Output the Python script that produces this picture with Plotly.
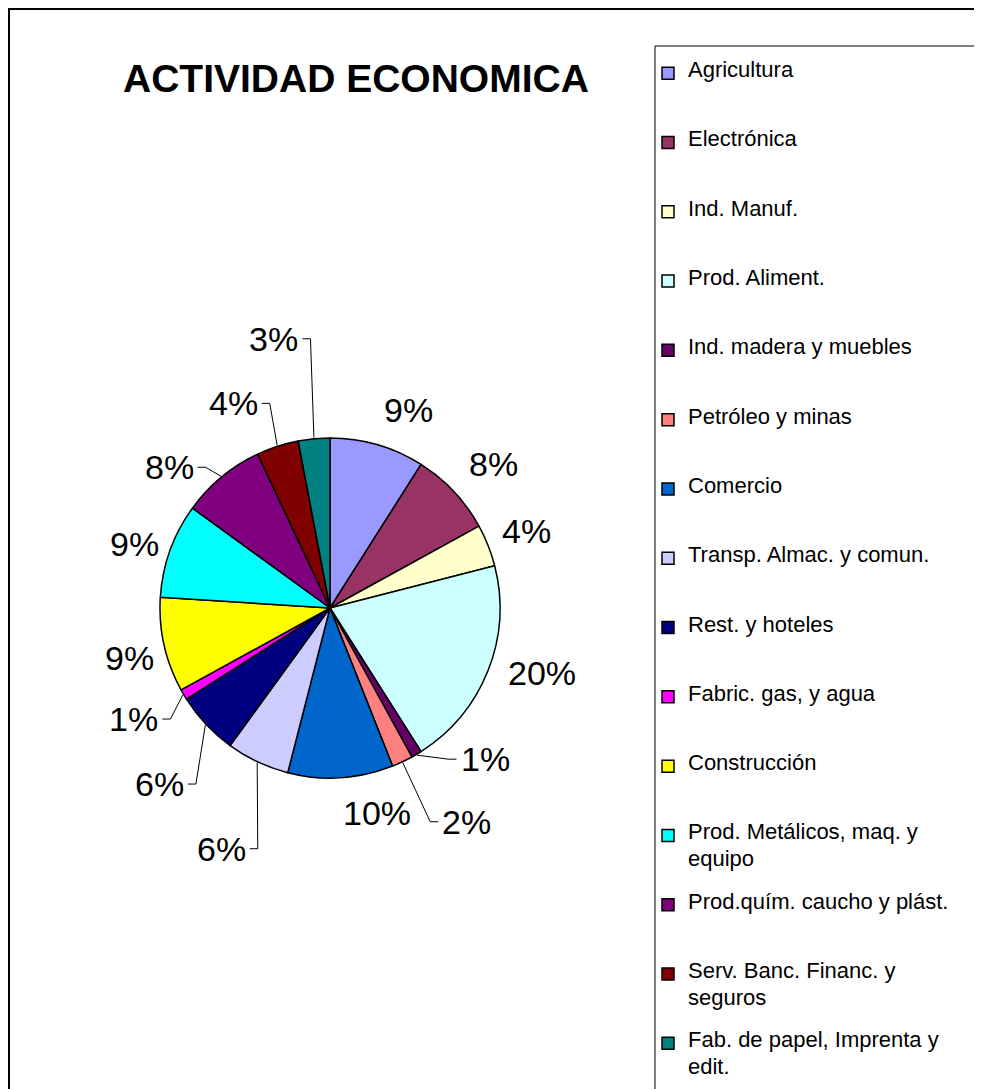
import math
import plotly.graph_objects as go

sectores = ["Agricultura", "Electrónica", "Ind. Manuf.", "Prod. Aliment.",
            "Ind. madera y muebles", "Petróleo y minas", "Comercio",
            "Transp. Almac. y comun.", "Rest. y hoteles", "Fabric. gas, y agua",
            "Construcción", "Prod. Metálicos, maq. y<br>equipo",
            "Prod.quím. caucho y plást.", "Serv. Banc. Financ. y<br>seguros",
            "Fab. de papel, Imprenta y<br>edit."]
porcentajes = [9, 8, 4, 20, 1, 2, 10, 6, 6, 1, 9, 9, 8, 4, 3]
colores = ["#9999FF", "#993366", "#FFFFCC", "#CCFFFF", "#660066", "#FF8080",
           "#0066CC", "#CCCCFF", "#000080", "#FF00FF", "#FFFF00", "#00FFFF",
           "#800080", "#800000", "#008080"]

# label placement: pixel offset from the slice edge, and whether a leader line is drawn
label_offset = [(31, -34), (39, -27), (38, -14), (53, 2), (68, 4), (64, 59), (36, 34),
                (-36, 86), (-46, 59), (-49, 24), (-34, 13), (-35, -6), (-52, -9),
                (-44, -42), (-40, -99)]
leader = [False, False, False, False, True, True, False,
          True, True, True, False, False, True, True, True]

W, H = 982, 1089
OFF = 8  # page body margin
cx, cy, R = 330, 608, 170
FONT = "Liberation Sans, Arial, sans-serif"


def px(x):
    return (x - OFF) / W


def py(y):
    return 1 - (y - OFF) / H


# legend entries padded with small blank lines so they space out like the original
legend_names = []
for k, s in enumerate(sectores):
    partes = s.split("<br>")
    lineas = []
    for p in partes:
        lineas.append("<span style='font-size:22px'>" + p + "</span>")
        lineas.append(" ")
    while len(lineas) < 5:
        lineas.append(" ")
    if k == len(sectores) - 1:
        lineas = lineas[:len(partes) * 2 - 1]
    legend_names.append("<br>".join(lineas[:5]))

fig = go.Figure(go.Pie(
    labels=legend_names,
    values=porcentajes,
    sort=False,
    direction="clockwise",
    rotation=0,
    marker=dict(colors=colores, line=dict(color="black", width=1.5)),
    textinfo="none",
    hoverinfo="percent",
    domain=dict(x=[px(cx - R), px(cx + R)], y=[py(cy + R), py(cy - R)]),
))

annotations = [dict(text="<b>ACTIVIDAD ECONOMICA</b>", x=px(356), y=py(79),
                    xref="paper", yref="paper", xanchor="center", yanchor="middle",
                    showarrow=False, font=dict(family=FONT, size=39, color="black"))]
shapes = [
    dict(type="rect", xref="paper", yref="paper", x0=px(9), x1=1.05, y0=-0.05, y1=py(9),
         line=dict(color="black", width=2)),
    dict(type="rect", xref="paper", yref="paper", x0=px(655), x1=1.05, y0=-0.05, y1=py(46),
         line=dict(color="black", width=1)),
]

total = sum(porcentajes)
acum = 0
for i, v in enumerate(porcentajes):
    mid = (acum + v / 2) / total * 2 * math.pi
    acum += v
    ex = cx + (R + 1) * math.sin(mid)
    ey = cy - (R + 1) * math.cos(mid)
    lx = ex + label_offset[i][0]
    ly = ey + label_offset[i][1]
    txt = "%d%%" % round(v / total * 100)
    annotations.append(dict(text=txt, x=px(lx), y=py(ly), xref="paper", yref="paper",
                            xanchor="center", yanchor="middle", showarrow=False,
                            font=dict(family=FONT, size=34, color="black")))
    if leader[i]:
        hw = (0.556 * (len(txt) - 1) + 0.889) * 34 / 2
        side = 1 if lx < ex else -1
        kx = lx + side * (hw + 12)
        ax = lx + side * (hw + 4)
        shapes.append(dict(type="line", xref="paper", yref="paper", x0=px(ex), y0=py(ey),
                           x1=px(kx), y1=py(ly), line=dict(color="black", width=1)))
        shapes.append(dict(type="line", xref="paper", yref="paper", x0=px(kx), y0=py(ly),
                           x1=px(ax), y1=py(ly), line=dict(color="black", width=1)))

fig.update_layout(
    width=W, height=H,
    margin=dict(l=0, r=0, t=0, b=0),
    paper_bgcolor="white",
    plot_bgcolor="white",
    font=dict(family=FONT, color="black"),
    showlegend=True,
    legend=dict(x=px(648), y=py(60), xanchor="left", yanchor="top",
                font=dict(family=FONT, size=10.2, color="black"),
                valign="top", itemwidth=30, bgcolor="rgba(0,0,0,0)", borderwidth=0,
                traceorder="normal"),
    annotations=annotations,
    shapes=shapes,
)

fig.write_html("out.html")
